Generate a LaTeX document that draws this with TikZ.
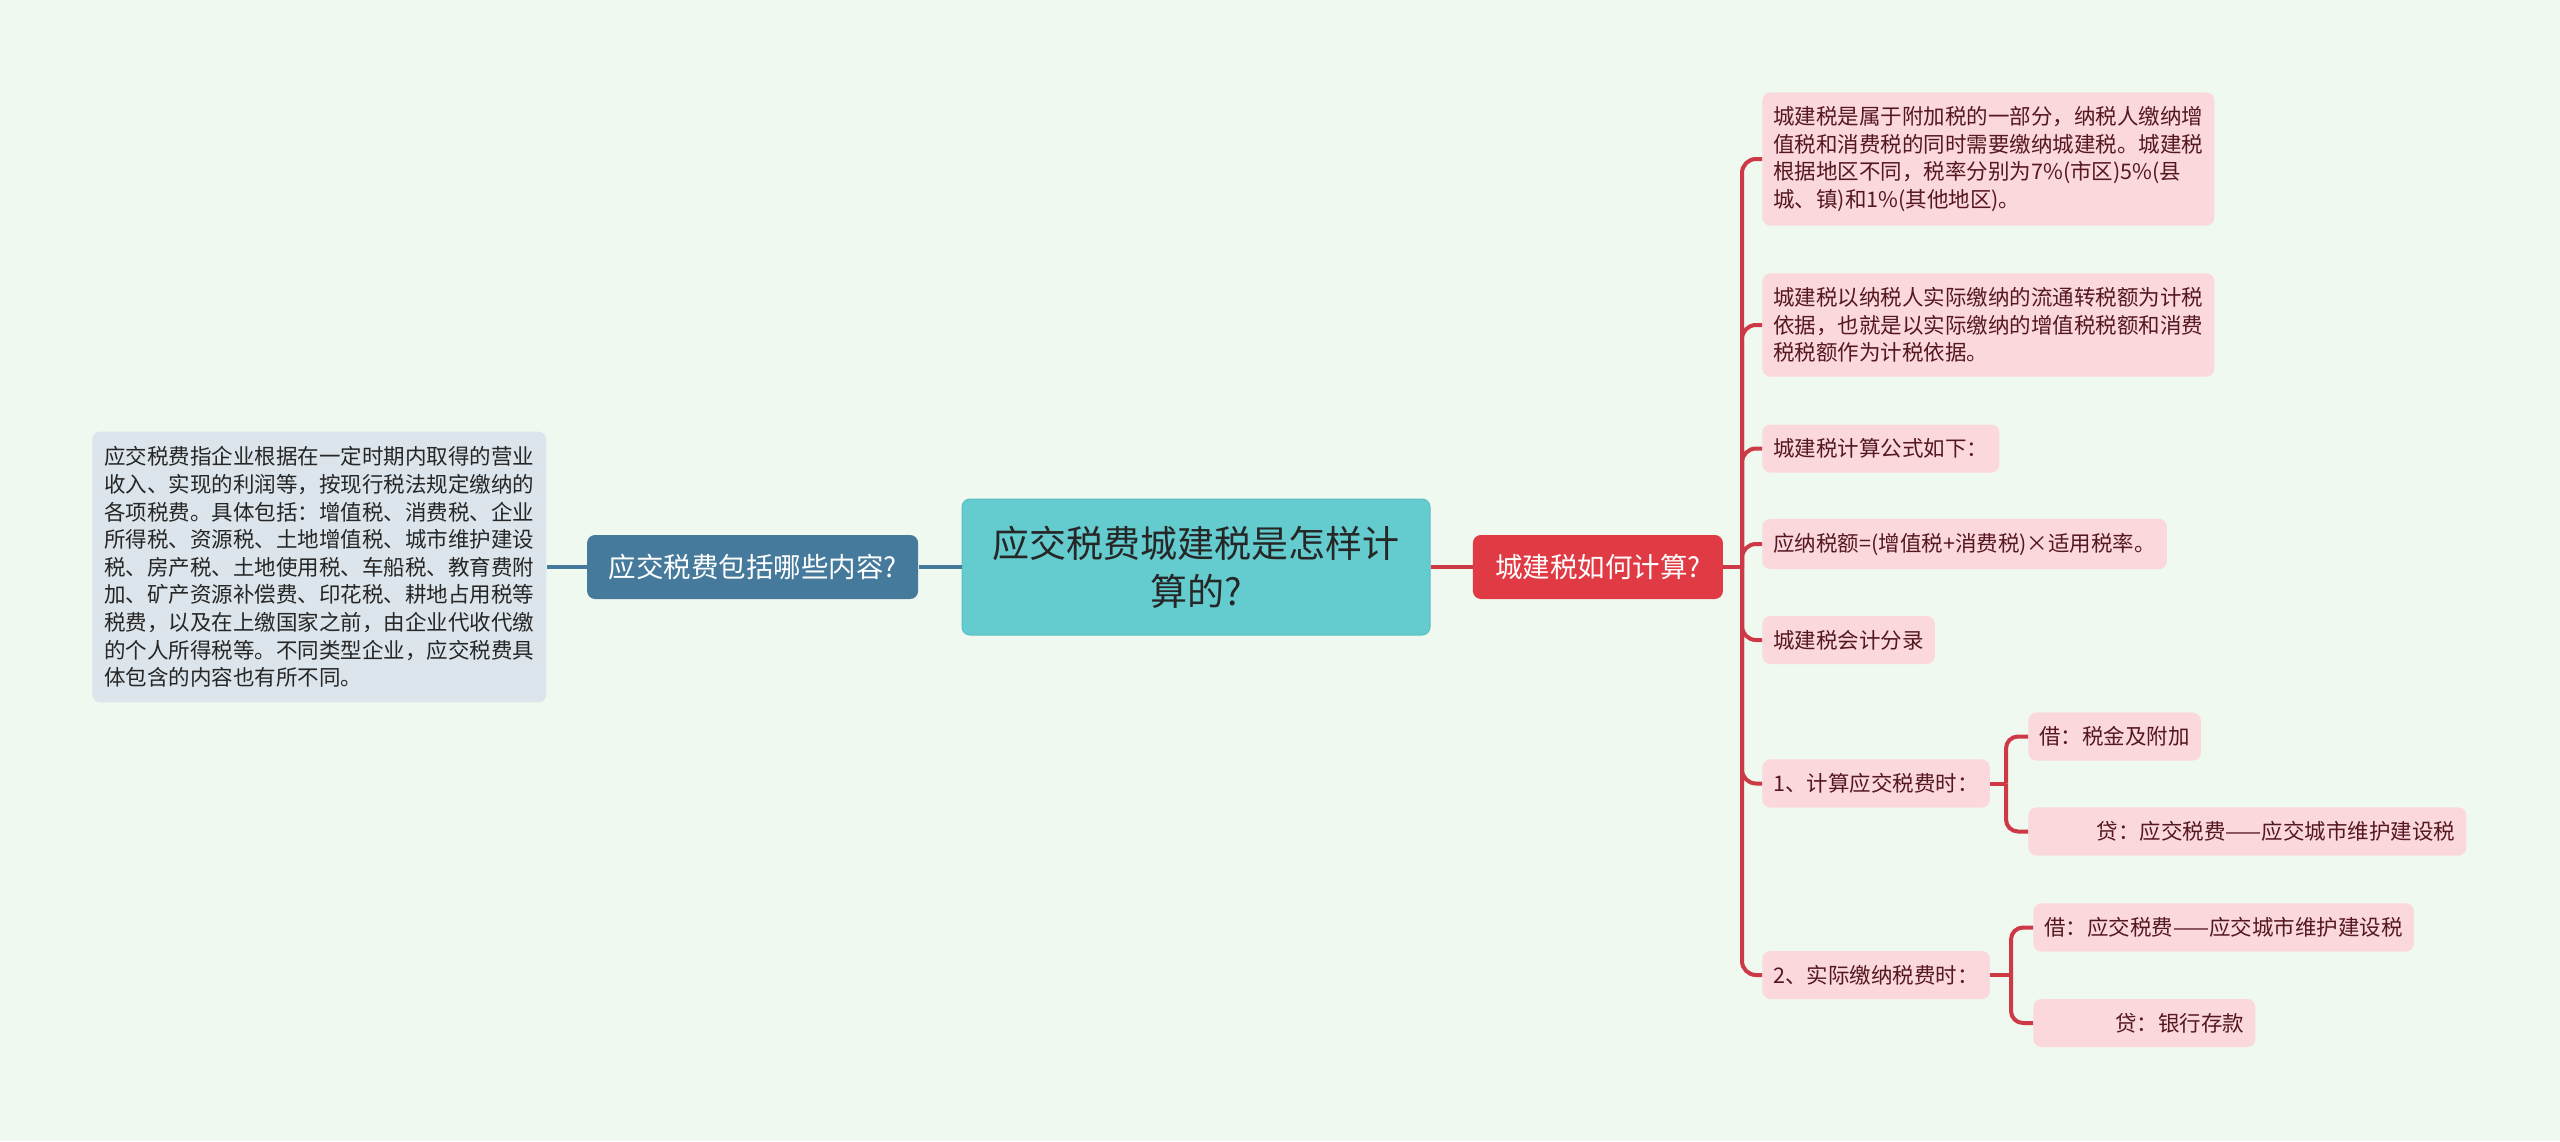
\documentclass[tikz,border=0pt]{standalone}
\usepackage{fontspec}
\setmainfont{Noto Sans CJK SC}
\usetikzlibrary{positioning}

\definecolor{bgmint}{HTML}{F0F9EF}
\definecolor{rootfill}{HTML}{64CBCE}
\definecolor{rootline}{HTML}{58BEC2}
\definecolor{bluefill}{HTML}{457A9C}
\definecolor{greyfill}{HTML}{DCE5EB}
\definecolor{redfill}{HTML}{E03A44}
\definecolor{pinkfill}{HTML}{FBD8DC}
\definecolor{pinktext}{HTML}{551820}
\definecolor{redline}{HTML}{CD3A45}

\newcommand\leaffont{\fontsize{10.75pt}{13.8pt}\selectfont}
\newcommand\topicfont{\fontsize{13.75pt}{16pt}\selectfont}
\newcommand\rootfont{\fontsize{18.5pt}{24pt}\selectfont}

\begin{document}
\begin{tikzpicture}[
  x=0.5pt, y=-0.5pt,
  root/.style={fill=rootfill, draw=rootline, line width=0.5pt, rounded corners=4pt, align=center,
    minimum width=234pt, minimum height=68pt, inner sep=2pt, font=\rootfont, text=black!85},
  topic/.style={rounded corners=4pt, align=center, minimum height=32pt, inner sep=2pt,
    font=\topicfont, text=white},
  leaf/.style={fill=pinkfill, rounded corners=4pt, align=left, inner xsep=5.5pt, inner ysep=7pt,
    minimum height=24pt, font=\leaffont, text=pinktext, anchor=west},
  note/.style={fill=greyfill, rounded corners=4pt, align=left, inner xsep=6pt, inner ysep=7.5pt,
    font=\leaffont, text=black!85},
  bluelink/.style={draw=bluefill, line width=1.75pt},
  redlink/.style={draw=redline, line width=2pt},
]
  \fill[bgmint] (0,0) rectangle (2560,1141);
  \useasboundingbox (0,0) rectangle (2560,1141);

  % centre
  \node[root] (root) at (1196,567) {应交税费城建税是怎样计\\算的?};

  % left branch
  \node[topic, fill=bluefill, minimum width=165.5pt, left=21.5pt of root] (lq) {应交税费包括哪些内容?};
  \node[note, left=20pt of lq] (lleaf) {应交税费指企业根据在一定时期内取得的营业\\收入、实现的利润等，按现行税法规定缴纳的\\各项税费。具体包括：增值税、消费税、企业\\所得税、资源税、土地增值税、城市维护建设\\税、房产税、土地使用税、车船税、教育费附\\加、矿产资源补偿费、印花税、耕地占用税等\\税费，以及在上缴国家之前，由企业代收代缴\\的个人所得税等。不同类型企业，应交税费具\\体包含的内容也有所不同。};

  % right branch
  \node[topic, fill=redfill, minimum width=125pt, right=21pt of root] (rq) {城建税如何计算?};
  \node[leaf] (r1) at (1762,159) {城建税是属于附加税的一部分，纳税人缴纳增\\值税和消费税的同时需要缴纳城建税。城建税\\根据地区不同，税率分别为7\%(市区)5\%(县\\城、镇)和1\%(其他地区)。};
  \node[leaf] (r2) at (1762,325) {城建税以纳税人实际缴纳的流通转税额为计税\\依据，也就是以实际缴纳的增值税税额和消费\\税税额作为计税依据。};
  \node[leaf] (r3) at (1762,448.5) {城建税计算公式如下：};
  \node[leaf] (r4) at (1762,544) {应纳税额=(增值税+消费税)×适用税率。};
  \node[leaf] (r5) at (1762,640) {城建税会计分录};
  \node[leaf] (n1) at (1762,783.5) {1、计算应交税费时：};
  \node[leaf] (n2) at (1762,975) {2、实际缴纳税费时：};
  % journal entries
  \node[leaf] (d1) at (2028,736.5) {借：税金及附加};
  \node[leaf, text width=208pt, align=right] (c1) at (2028,831.5) {贷：应交税费——应交城市维护建设税};
  \node[leaf] (d2) at (2033,927.5) {借：应交税费——应交城市维护建设税};
  \node[leaf, text width=100pt, align=right] (c2) at (2033,1023) {贷：银行存款};

  % junctions
  \coordinate (tj) at (1742,567);
  \coordinate (j1) at (2006,783.5);
  \coordinate (j2) at (2011,975);

  % connectors
  \draw[bluelink] (root.west) -- (lq.east);
  \draw[bluelink] (lq.west) -- (lleaf.east);
  \draw[redlink] (root.east) -- (rq.west);
  \draw[redlink] (rq.east) -- (tj);
  \foreach \c in {r1, r2, r3, r4, r5, n1, n2} \draw[redlink, rounded corners=7pt] (tj) |- (\c.west);
  \draw[redlink] (n1.east) -- (j1);
  \draw[redlink] (n2.east) -- (j2);
  \foreach \c in {d1, c1} \draw[redlink, rounded corners=6pt] (j1) |- (\c.west);
  \foreach \c in {d2, c2} \draw[redlink, rounded corners=6pt] (j2) |- (\c.west);
\end{tikzpicture}
\end{document}
